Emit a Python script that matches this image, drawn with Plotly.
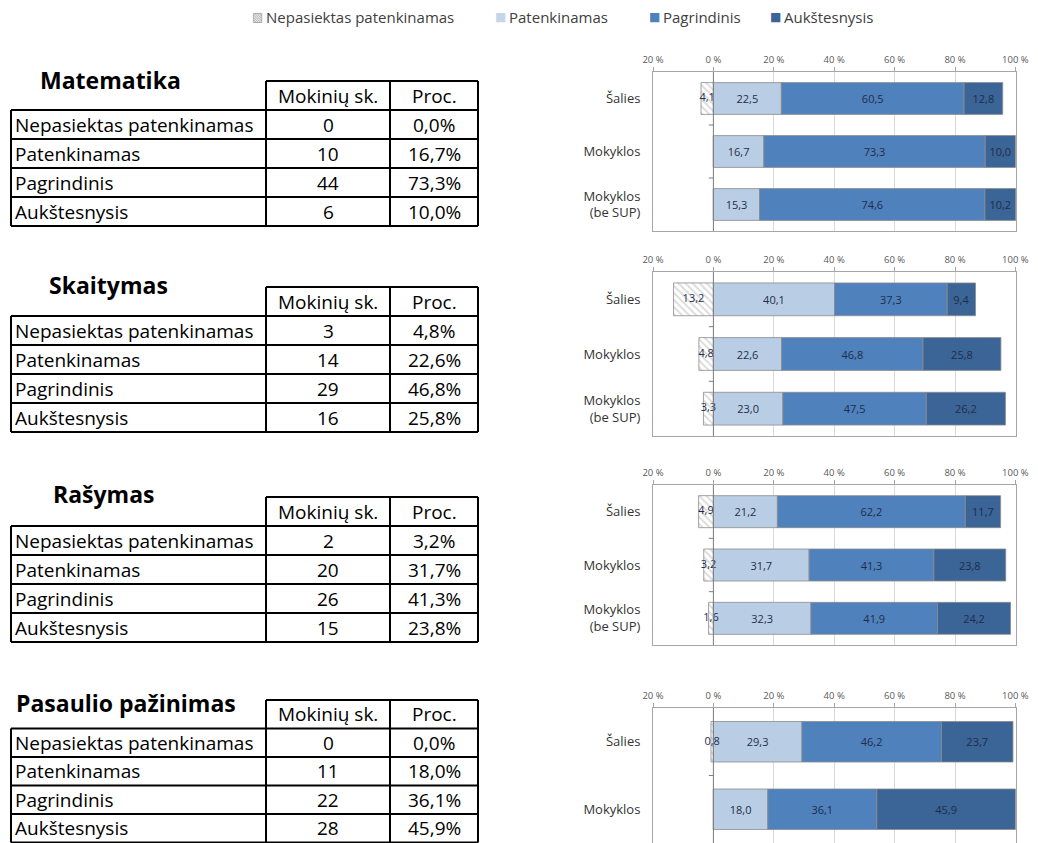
import plotly.graph_objects as go

W, H = 1038, 843

# ---------------- data ----------------
levels = ["Nepasiektas patenkinamas", "Patenkinamas", "Pagrindinis", "Aukštesnysis"]
subjects = ["Matematika", "Skaitymas", "Rašymas", "Pasaulio pažinimas"]

# table data (student counts and percentages)
mat_counts = [0, 10, 44, 6]
mat_pct = [0.0, 16.7, 73.3, 10.0]
skt_counts = [3, 14, 29, 16]
skt_pct = [4.8, 22.6, 46.8, 25.8]
ras_counts = [2, 20, 26, 15]
ras_pct = [3.2, 31.7, 41.3, 23.8]
pas_counts = [0, 11, 22, 28]
pas_pct = [0.0, 18.0, 36.1, 45.9]

# chart data: per category [Nepasiektas, Patenkinamas, Pagrindinis, Aukštesnysis]
cats3 = ["Šalies", "Mokyklos", "Mokyklos<br>(be SUP)"]
cats2 = ["Šalies", "Mokyklos"]

mat_chart = {
    "Šalies": [4.1, 22.5, 60.5, 12.8],
    "Mokyklos": [0.0, 16.7, 73.3, 10.0],
    "Mokyklos<br>(be SUP)": [0.0, 15.3, 74.6, 10.2],
}
skt_chart = {
    "Šalies": [13.2, 40.1, 37.3, 9.4],
    "Mokyklos": [4.8, 22.6, 46.8, 25.8],
    "Mokyklos<br>(be SUP)": [3.3, 23.0, 47.5, 26.2],
}
ras_chart = {
    "Šalies": [4.9, 21.2, 62.2, 11.7],
    "Mokyklos": [3.2, 31.7, 41.3, 23.8],
    "Mokyklos<br>(be SUP)": [1.6, 32.3, 41.9, 24.2],
}
pas_chart = {
    "Šalies": [0.8, 29.3, 46.2, 23.7],
    "Mokyklos": [0.0, 18.0, 36.1, 45.9],
}

tick_vals = [-20, 0, 20, 40, 60, 80, 100]
tick_text = ["20 %", "0 %", "20 %", "40 %", "60 %", "80 %", "100 %"]

# ---------------- styling / layout ----------------
FONT = "Open Sans"
colors = ["#ffffff", "#b9cde5", "#4f81bd", "#3b6497"]
legend_icon_colors = ["#9a9a9a", "#c6d6ea", "#4f81bd", "#3b6497"]
legend_icons = ["▧", "■", "■", "■"]
text_color = "#1f2d4a"

tables = [
    (subjects[0], mat_counts, mat_pct),
    (subjects[1], skt_counts, skt_pct),
    (subjects[2], ras_counts, ras_pct),
    (subjects[3], pas_counts, pas_pct),
]
charts = [
    (cats3, mat_chart),
    (cats3, skt_chart),
    (cats3, ras_chart),
    (cats2, pas_chart),
]

# pixel layout
table_tops = [81, 287, 497, 700]
row_hs = [29, 29, 29, 28.5]
title_pos = [(110, 80), (108, 285), (104, 494), (126, 703)]
col_x = [11, 266, 390, 478]
panel_y = [(72, 231), (272, 436), (485, 645), (708, 843)]
panel_x = (653, 1016)
legend_x = [250, 493, 647, 768]
legend_y = 17
TBL_SIZE = 19
TITLE_SIZE = 23


def px(x):
    return x / W


def py(y):
    return min(1.0, max(0.0, 1 - y / H))


def fmt(v):
    return f"{v:.1f}".replace(".", ",")


fig = go.Figure()
shapes = []
annotations = []

for i, (cats, data) in enumerate(charts):
    xa = "x" if i == 0 else f"x{i+1}"
    ya = "y" if i == 0 else f"y{i+1}"
    for li, lev in enumerate(levels):
        vals = [data[c][li] for c in cats]
        xs = [-v if li == 0 else v for v in vals]
        txt = [fmt(v) if (v > 0 and li > 0) else "" for v in vals]
        marker = dict(color=colors[li], line=dict(color="#8c8c8c", width=0.8))
        if li == 0:
            marker["pattern"] = dict(shape="\\", fgcolor="#b5b5b5", bgcolor="#ffffff",
                                     size=5, solidity=0.35)
        fig.add_trace(go.Bar(
            y=cats, x=xs, orientation="h", name=lev, marker=marker,
            text=txt, textposition="inside", insidetextanchor="middle",
            textangle=0, constraintext="none", cliponaxis=False,
            textfont=dict(family=FONT, size=11, color=text_color),
            xaxis=xa, yaxis=ya, showlegend=False, legendgroup=lev,
            hoverinfo="skip",
        ))
    # labels of the negative (hatched) segments, drawn on top of all bars
    neg = [data[c][0] for c in cats]
    fig.add_trace(go.Scatter(
        y=cats, x=[-v / 2 for v in neg], mode="text",
        text=[fmt(v) if v > 0 else "" for v in neg],
        textfont=dict(family=FONT, size=11, color=text_color),
        textposition="middle center", xaxis=xa, yaxis=ya, showlegend=False,
        hoverinfo="skip", cliponaxis=False,
    ))
    y0, y1 = panel_y[i]
    xkey = "xaxis" if i == 0 else f"xaxis{i+1}"
    ykey = "yaxis" if i == 0 else f"yaxis{i+1}"
    fig.update_layout(**{
        xkey: dict(domain=[px(panel_x[0]), px(panel_x[1])], anchor=ya, range=[-20, 100.2],
                   side="top", tickvals=tick_vals, ticktext=tick_text,
                   tickfont=dict(family=FONT, size=9.5, color="#595959"),
                   showgrid=True, gridcolor="#d9d9d9", gridwidth=1, zeroline=False,
                   showline=True, mirror=True, linecolor="#a6a6a6", linewidth=1,
                   ticks="outside", ticklen=4, tickcolor="#a6a6a6", fixedrange=True,
                   automargin=False),
        ykey: dict(domain=[py(y1), py(y0)], anchor=xa, type="category",
                   categoryorder="array", categoryarray=cats, autorange="reversed",
                   showgrid=False, showline=True, mirror=True, linecolor="#a6a6a6",
                   ticks="", ticklabelstandoff=9,
                   tickfont=dict(family=FONT, size=13, color="#333333"), fixedrange=True,
                   automargin=False),
    })
    # vertical axis line at 0 with small category separators
    shapes.append(dict(type="line", xref=xa, yref=f"{ya} domain", x0=0, x1=0, y0=0, y1=1,
                       line=dict(color="#7f7f7f", width=1), layer="above"))
    for k in range(len(cats) - 1):
        shapes.append(dict(type="line", xref=xa, yref=ya, x0=-1.5, x1=0, y0=k + 0.5, y1=k + 0.5,
                           line=dict(color="#7f7f7f", width=1), layer="above"))

# ---------------- legend (top) ----------------
for li, lev in enumerate(levels):
    annotations.append(dict(text=legend_icons[li], x=px(legend_x[li]), y=py(legend_y),
                            xref="paper", yref="paper", showarrow=False, xanchor="left",
                            yanchor="middle",
                            font=dict(family="DejaVu Sans", size=12, color=legend_icon_colors[li])))
    annotations.append(dict(text=lev, x=px(legend_x[li] + 14), y=py(legend_y),
                            xref="paper", yref="paper", showarrow=False, xanchor="left",
                            yanchor="middle", font=dict(family=FONT, size=15, color="#404040")))

# ---------------- tables ----------------
LW = 2
for t, (title, counts, pcts) in enumerate(tables):
    top = table_tops[t]
    row_h = row_hs[t]
    body_top = top + row_h
    bottom = top + row_h * 5
    annotations.append(dict(text=f"<b>{title}</b>", x=px(title_pos[t][0]), y=py(title_pos[t][1]),
                            xref="paper", yref="paper", showarrow=False, xanchor="center",
                            yanchor="middle", font=dict(family=FONT, size=TITLE_SIZE, color="#000000")))
    shapes.append(dict(type="line", xref="paper", yref="paper", x0=px(col_x[1]), x1=px(col_x[3]),
                       y0=py(top), y1=py(top), line=dict(color="black", width=LW)))
    for r in range(1, 6):
        yy = top + row_h * r
        shapes.append(dict(type="line", xref="paper", yref="paper", x0=px(col_x[0]), x1=px(col_x[3]),
                           y0=py(yy), y1=py(yy), line=dict(color="black", width=LW)))
    shapes.append(dict(type="line", xref="paper", yref="paper", x0=px(col_x[0]), x1=px(col_x[0]),
                       y0=py(body_top), y1=py(bottom), line=dict(color="black", width=LW)))
    for c in range(1, 4):
        shapes.append(dict(type="line", xref="paper", yref="paper", x0=px(col_x[c]), x1=px(col_x[c]),
                           y0=py(top), y1=py(bottom), line=dict(color="black", width=LW)))
    for c, htxt in zip((1, 2), ("Mokinių sk.", "Proc.")):
        annotations.append(dict(text=htxt, x=px((col_x[c] + col_x[c + 1]) / 2),
                                y=py(top + row_h / 2), xref="paper", yref="paper",
                                showarrow=False, xanchor="center", yanchor="middle",
                                font=dict(family=FONT, size=TBL_SIZE, color="#000000")))
    for r, lev in enumerate(levels):
        yc = py(body_top + row_h * r + row_h / 2)
        annotations.append(dict(text=lev, x=px(col_x[0] + 2), y=yc, xref="paper", yref="paper",
                                showarrow=False, xanchor="left", yanchor="middle",
                                font=dict(family=FONT, size=TBL_SIZE, color="#000000")))
        annotations.append(dict(text=str(counts[r]), x=px((col_x[1] + col_x[2]) / 2), y=yc,
                                xref="paper", yref="paper", showarrow=False, xanchor="center",
                                yanchor="middle", font=dict(family=FONT, size=TBL_SIZE, color="#000000")))
        annotations.append(dict(text=fmt(pcts[r]) + "%", x=px((col_x[2] + col_x[3]) / 2), y=yc,
                                xref="paper", yref="paper", showarrow=False, xanchor="center",
                                yanchor="middle", font=dict(family=FONT, size=TBL_SIZE, color="#000000")))

fig.update_layout(
    width=W, height=H, autosize=False,
    margin=dict(l=0, r=0, t=0, b=0, pad=0, autoexpand=False),
    paper_bgcolor="white", plot_bgcolor="white",
    barmode="relative", bargap=0.4,
    uniformtext=dict(minsize=11, mode="show"),
    shapes=shapes, annotations=annotations,
    showlegend=False,
    font=dict(family=FONT),
)

fig.write_html(
    "out.html",
    config={"displayModeBar": False},
    post_script="document.body.style.margin='0px';document.body.style.overflow='hidden';",
)
